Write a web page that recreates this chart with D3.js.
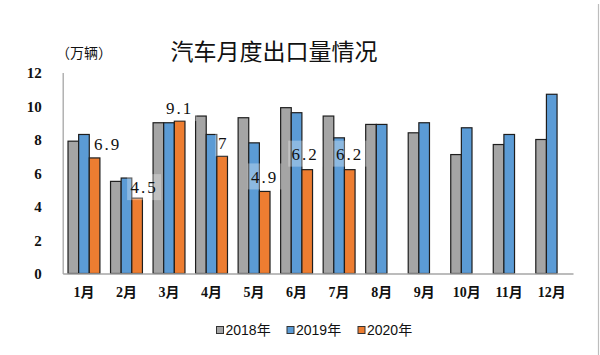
<!DOCTYPE html>
<html><head><meta charset="utf-8">
<script src="https://cdn.jsdelivr.net/npm/d3@7"></script>
<style>body{margin:0;background:#fff}svg{display:block}</style>
</head><body><svg id="c" width="600" height="355"></svg>
<script>
const months = ["1月","2月","3月","4月","5月","6月","7月","8月","9月","10月","11月","12月"];
const seriesNames = ["2018年","2019年","2020年"];
const v2018 = [7.9,5.5,9.0,9.4,9.3,9.9,9.4,8.9,8.4,7.1,7.7,8.0];
const v2019 = [8.3,5.7,9.0,8.3,7.8,9.6,8.1,8.9,9.0,8.7,8.3,10.7];
const v2020 = [6.9,4.5,9.1,7.0,4.9,6.2,6.2,null,null,null,null,null];
const labels2020 = ["6.9","4.5","9.1","7","4.9","6.2","6.2"];
const yTicks = [0,2,4,6,8,10,12];
const colors = ["#A5A5A5","#5B9BD5","#ED7D31"];

const svg = d3.select("#c");
const x0 = d3.scaleBand().domain(months).range([62.7,573]).paddingInner(0.25).paddingOuter(0.125);
const x1 = d3.scaleBand().domain(seriesNames).range([0,x0.bandwidth()]);
const y = d3.scaleLinear().domain([0,12]).range([273.5,72.5]);

// right frame line
svg.append("line").attr("x1",598.5).attr("x2",598.5).attr("y1",4).attr("y2",355).attr("stroke","#bdbdbd").attr("stroke-width",1.2);

// y axis
const yAxis = svg.append("g").attr("transform","translate(62.7,0)").call(d3.axisLeft(y).tickValues(yTicks).tickSize(0).tickPadding(21));
yAxis.select(".domain").attr("stroke","#a6a6a6").attr("stroke-width",1.3);
yAxis.selectAll("text").attr("font-family","'Liberation Serif',serif").attr("font-weight","bold").attr("font-size",15).attr("fill","#111").attr("dy","0.35em");

// bars
const data = months.map((m,i)=>({m, vals:[v2018[i],v2019[i],v2020[i]]}));
const g = svg.append("g");
data.forEach(d=>{
  d.vals.forEach((v,k)=>{
    if(v==null) return;
    g.append("rect")
      .attr("x", x0(d.m)+x1(seriesNames[k]))
      .attr("y", y(v))
      .attr("width", x1.bandwidth())
      .attr("height", y(0)-y(v))
      .attr("fill", colors[k])
      .attr("stroke","#1e1e1e").attr("stroke-width",1.2);
  });
});

// x axis
const xAxis = svg.append("g").attr("transform","translate(0,273.5)").call(d3.axisBottom(x0).tickSize(0).tickPadding(14));
xAxis.select(".domain").attr("stroke","#a6a6a6").attr("stroke-width",1.3);
xAxis.selectAll("text").attr("font-family","'Liberation Serif','Noto Sans CJK SC',serif").attr("font-weight","bold").attr("font-size",14).attr("fill","#111");

// data labels for 2020
const offs = [[13,-14],[7,-11],[0,-13],[0,-13],[0,-15],[-2,-16],[0,-16]];
labels2020.forEach((t,i)=>{
  const cx = x0(months[i])+x1("2020年")+x1.bandwidth()/2 + offs[i][0];
  const cy = y(v2020[i]) + offs[i][1];
  const w = t.length>1 ? 34 : 14;
  g.append("rect").attr("x",cx-w/2).attr("y",cy-13).attr("width",w).attr("height",26).attr("fill","#fff").attr("opacity",0.3);
  g.append("text").attr("x",cx).attr("y",cy).attr("dy","0.36em").attr("text-anchor","middle")
    .attr("font-family","'Liberation Serif',serif").attr("font-size",17).attr("letter-spacing",t.length>1?"2px":"0px")
    .attr("fill","#111").text(t);
});

// title
svg.append("text").attr("x",274).attr("y",52).attr("dy","0.35em").attr("text-anchor","middle")
  .attr("font-family","'Noto Sans CJK SC',sans-serif").attr("font-size",23).attr("fill","#111").text("汽车月度出口量情况");
svg.append("text").attr("x",84).attr("y",53).attr("dy","0.35em").attr("text-anchor","middle")
  .attr("font-family","'Noto Sans CJK SC',sans-serif").attr("font-size",14).attr("fill","#111").text("（万辆）");

// legend
const legX = [216.5,287,358];
seriesNames.forEach((s,k)=>{
  const lg = svg.append("g").attr("transform",`translate(${legX[k]},330)`);
  lg.append("rect").attr("x",0).attr("y",-3.5).attr("width",7).attr("height",7).attr("fill",colors[k]).attr("stroke","#333").attr("stroke-width",1);
  lg.append("text").attr("x",9).attr("y",0).attr("dy","0.36em").attr("font-family","'Liberation Sans','Noto Sans CJK SC',sans-serif")
    .attr("font-size",14).attr("fill","#111").text(s);
});
</script></body></html>
